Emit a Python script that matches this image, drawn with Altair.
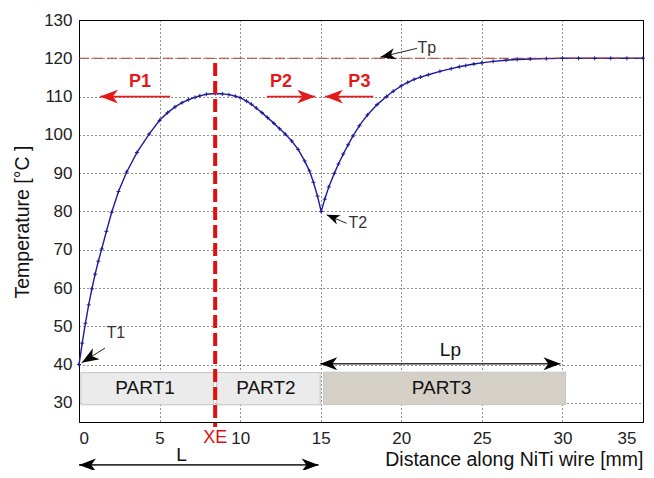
import altair as alt
import pandas as pd

# ---- curve data ----
curve_x = [0.0, 0.2, 0.4, 0.6, 0.8, 1.0, 1.2, 1.41, 1.7, 2.03, 2.45, 2.96, 3.6, 4.35,
           5.0, 5.5, 5.96, 6.4, 6.8, 7.2, 7.5, 7.9, 8.45, 8.9, 9.3, 9.7, 10.0, 10.4, 10.7,
           11.0, 11.35, 11.7, 12.1, 12.45, 12.8, 13.2, 13.6, 14.0, 14.3, 14.55, 14.8,
           15.03, 15.25, 15.5, 15.85, 16.1, 16.4, 16.7, 17.0, 17.4,
           17.9, 18.5, 19.08, 19.5, 20.0, 20.4, 20.8, 21.2, 21.68, 22.4, 23.1, 23.6, 24.0,
           24.5, 25.0, 25.7, 26.5, 27.2, 28.0, 29.0, 30.0, 31.0, 32.0, 33.0, 34.0, 35.0]
curve_t = [40.0, 45.6, 50.8, 55.6, 59.8, 63.6, 67.0, 70.2, 74.8, 79.8, 85.2, 90.3, 95.4, 100.2,
           103.8, 105.8, 107.3, 108.4, 109.2, 109.8, 110.2, 110.6, 110.8, 110.7, 110.5, 110.1,
           109.7, 108.8, 108.0, 107.0, 105.8, 104.5, 103.0, 101.6, 100.2, 98.4, 96.2, 93.2,
           90.6, 87.6, 84.0, 80.0, 83.2, 86.4, 90.0, 92.4, 95.0, 97.4,
           99.7, 102.4, 105.2, 107.9, 110.0, 111.4, 112.8, 113.7, 114.5, 115.1, 115.7, 116.6,
           117.3, 117.8, 118.1, 118.5, 118.8, 119.2, 119.5, 119.7, 119.8, 119.9, 120.0, 120.0,
           120.0, 120.0, 120.0, 120.0]

# ---- region boxes ----
part_names = ["PART1", "PART2", "PART3"]
part_x0 = [0.12, 8.55, 15.18]
part_x1 = [8.34, 14.97, 30.2]
part_y0 = [29.5, 29.5, 29.55]
part_y1 = [37.9, 37.9, 38.0]
part_fill = ["#ebebeb", "#ebebeb", "#d4d0c8"]
part_label_x = [4.1, 11.6, 22.5]
part_label_y = [33.8, 33.8, 33.8]

# ---- reference values ----
tp_value = 120
xe_value = 8.45
xe_y_top = 118.8
xe_y_bottom = 23.7

# ---- red arrows (P1, P2, P3) ----
red_names = ["P1", "P2", "P3"]
red_tail_x = [5.65, 11.66, 18.26]
red_tip_x = [1.3, 14.66, 15.26]
red_y = [110, 110, 110]
red_angle = [0, 180, 0]
red_label_x = [3.79, 12.53, 17.4]
red_label_y = [113.8, 113.8, 113.8]

# ---- black single arrows (T1, T2, Tp) ----
blk_names = ["T1", "T2", "Tp"]
blk_tip_x = [0.17, 15.37, 18.7]
blk_tip_y = [40.5, 79.1, 120.3]
blk_tail_x = [1.61, 16.6, 20.97]
blk_tail_y = [44.3, 76.9, 122.6]
blk_angle = [328.3, 22.5, 346.7]
blk_size = [1156, 676, 900]
blk_label_x = [1.71, 16.73, 21.0]
blk_label_y = [48.2, 77.1, 122.7]

# ---- black double arrows (Lp, L) ----
dbl_names = ["Lp", "L"]
dbl_x0 = [14.97, 0.0]
dbl_x1 = [29.88, 14.87]
dbl_y = [40.2, 13.8]
dbl_label_x = [23.05, 6.37]
dbl_label_y = [43.8, 16.4]

FONT = "Liberation Sans"
X_DOM = [0, 35]
Y_DOM = [25, 130]
xs = alt.Scale(domain=X_DOM, nice=False, zero=False)
ys = alt.Scale(domain=Y_DOM, nice=False, zero=False)

curve_df = pd.DataFrame({"x": curve_x, "t": curve_t})
parts_df = pd.DataFrame({"name": part_names, "x0": part_x0, "x1": part_x1,
                         "y0": part_y0, "y1": part_y1, "fill": part_fill,
                         "lx": part_label_x, "ly": part_label_y})
red_df = pd.DataFrame({"name": red_names, "tail": red_tail_x, "tip": red_tip_x, "y": red_y,
                       "angle": red_angle, "lx": red_label_x, "ly": red_label_y})
blk_df = pd.DataFrame({"name": blk_names, "tipx": blk_tip_x, "tipy": blk_tip_y,
                       "tailx": blk_tail_x, "taily": blk_tail_y, "angle": blk_angle,
                       "size": blk_size, "lx": blk_label_x, "ly": blk_label_y})
dbl_df = pd.DataFrame({"name": dbl_names, "x0": dbl_x0, "x1": dbl_x1, "y": dbl_y,
                       "lx": dbl_label_x, "ly": dbl_label_y})
dbl_heads = pd.DataFrame({"x": dbl_x0 + dbl_x1, "y": dbl_y + dbl_y,
                          "angle": [0] * len(dbl_x0) + [180] * len(dbl_x1)})
tp_df = pd.DataFrame({"x0": [X_DOM[0]], "x1": [X_DOM[1]], "y": [tp_value]})
xe_df = pd.DataFrame({"x": [xe_value], "y0": [xe_y_top], "y1": [xe_y_bottom],
                      "lab": ["XE"], "ly": [20.8]})

HEAD = "M0,0L1,-0.38L0.72,0L1,0.38Z"
PLUS = "M-1,0L1,0M0,-1L0,1"

xaxis = alt.Axis(values=list(range(0, 36, 5)), grid=True, gridColor="#000000",
                 gridDash=[1, 3], gridOpacity=0.85, ticks=False, labelFont=FONT,
                 labelFontSize=17, labelColor="#222222", labelPadding=8,
                 labelOffset={"condition": {"test": "datum.value == 35", "value": -7}, "value": 0},
                 domainColor="#000000", title="Distance along NiTi wire [mm]",
                 titleFont=FONT, titleFontSize=19.5, titleFontWeight="normal",
                 titleColor="#111111", titleAnchor="end", titleAlign="right",
                 titleX=564, titleY=43.5, titleBaseline="alphabetic")
yaxis = alt.Axis(values=list(range(30, 131, 10)), grid=True, gridColor="#000000",
                 gridDash=[1, 3], gridOpacity=0.85, ticks=False, labelFont=FONT,
                 labelFontSize=17, labelColor="#222222", labelPadding=7,
                 domainColor="#000000", title="Temperature  [°C ]",
                 titleFont=FONT, titleFontSize=19.5, titleFontWeight="normal",
                 titleColor="#111111", titleAngle=270, titleAlign="center",
                 titleX=-51, titleY=201.5, titleBaseline="alphabetic")

base_curve = alt.Chart(curve_df)
curve_line = base_curve.mark_line(color="#1c1c9a", strokeWidth=1.4).encode(
    x=alt.X("x:Q", scale=xs, axis=xaxis),
    y=alt.Y("t:Q", scale=ys, axis=yaxis),
)
curve_pts = base_curve.mark_point(shape=PLUS, size=16, color="#1c1c9a", strokeWidth=1,
                                  filled=False, opacity=1).encode(
    x=alt.X("x:Q", scale=xs), y=alt.Y("t:Q", scale=ys))

boxes = alt.Chart(parts_df).mark_rect(stroke="#c4c4c4", strokeWidth=1).encode(
    x=alt.X("x0:Q", scale=xs), x2="x1:Q",
    y=alt.Y("y0:Q", scale=ys), y2="y1:Q",
    fill=alt.Fill("fill:N", scale=None))
box_text = alt.Chart(parts_df).mark_text(font=FONT, fontSize=19, color="#111111",
                                         baseline="middle", align="center").encode(
    x=alt.X("lx:Q", scale=xs), y=alt.Y("ly:Q", scale=ys), text="name:N")

tp_line = alt.Chart(tp_df).mark_rule(color="#c0392b", strokeWidth=1.1,
                                     strokeDash=[10, 4]).encode(
    x=alt.X("x0:Q", scale=xs), x2="x1:Q", y=alt.Y("y:Q", scale=ys))

xe_line = alt.Chart(xe_df).mark_rule(color="#e01010", strokeWidth=4,
                                     strokeDash=[13, 5]).encode(
    x=alt.X("x:Q", scale=xs), y=alt.Y("y0:Q", scale=ys), y2="y1:Q")
xe_text = alt.Chart(xe_df).mark_text(font=FONT, fontSize=18, color="#e01010",
                                     baseline="middle", align="center").encode(
    x=alt.X("x:Q", scale=xs), y=alt.Y("ly:Q", scale=ys), text="lab:N")

red_lines = alt.Chart(red_df).mark_rule(color="#e41a1a", strokeWidth=1.8).encode(
    x=alt.X("tail:Q", scale=xs), x2="tip:Q", y=alt.Y("y:Q", scale=ys))
red_heads = alt.Chart(red_df).mark_point(shape=HEAD, size=1296, filled=True,
                                         color="#e41a1a", opacity=1,
                                         strokeWidth=0).encode(
    x=alt.X("tip:Q", scale=xs), y=alt.Y("y:Q", scale=ys), angle=alt.Angle("angle:Q", scale=None))
red_text = alt.Chart(red_df).mark_text(font=FONT, fontSize=18, fontWeight="bold",
                                       color="#e41a1a", baseline="middle",
                                       align="center").encode(
    x=alt.X("lx:Q", scale=xs), y=alt.Y("ly:Q", scale=ys), text="name:N")

blk_lines = alt.Chart(blk_df).mark_rule(color="#222222", strokeWidth=1).encode(
    x=alt.X("tipx:Q", scale=xs), x2="tailx:Q", y=alt.Y("tipy:Q", scale=ys), y2="taily:Q")
blk_heads = alt.Chart(blk_df).mark_point(shape=HEAD, filled=True, color="#000000",
                                         opacity=1, strokeWidth=0).encode(
    x=alt.X("tipx:Q", scale=xs), y=alt.Y("tipy:Q", scale=ys),
    angle=alt.Angle("angle:Q", scale=None), size=alt.Size("size:Q", scale=None))
blk_text = alt.Chart(blk_df).mark_text(font=FONT, fontSize=16, color="#333333",
                                       baseline="middle", align="left").encode(
    x=alt.X("lx:Q", scale=xs), y=alt.Y("ly:Q", scale=ys), text="name:N")

dbl_lines = alt.Chart(dbl_df).mark_rule(color="#333333", strokeWidth=1.6).encode(
    x=alt.X("x0:Q", scale=xs), x2="x1:Q", y=alt.Y("y:Q", scale=ys))
dbl_head_marks = alt.Chart(dbl_heads).mark_point(shape=HEAD, size=1156, filled=True,
                                                 color="#000000", opacity=1,
                                                 strokeWidth=0).encode(
    x=alt.X("x:Q", scale=xs), y=alt.Y("y:Q", scale=ys), angle=alt.Angle("angle:Q", scale=None))
dbl_text = alt.Chart(dbl_df).mark_text(font=FONT, fontSize=19, color="#111111",
                                       baseline="middle", align="center").encode(
    x=alt.X("lx:Q", scale=xs), y=alt.Y("ly:Q", scale=ys), text="name:N")

chart = alt.layer(
    curve_line, boxes, box_text, tp_line, curve_pts, xe_line, xe_text,
    red_lines, red_heads, red_text, blk_lines, blk_heads, blk_text,
    dbl_lines, dbl_head_marks, dbl_text,
).properties(
    width=564, height=402,
    autosize=alt.AutoSizeParams(type="none"),
    padding={"left": 71, "top": 12, "right": 3, "bottom": 48},
    background="#ffffff",
).configure_view(stroke="#000000", strokeWidth=1)

chart.save("out.html", embed_options={"renderer": "svg", "actions": False})
